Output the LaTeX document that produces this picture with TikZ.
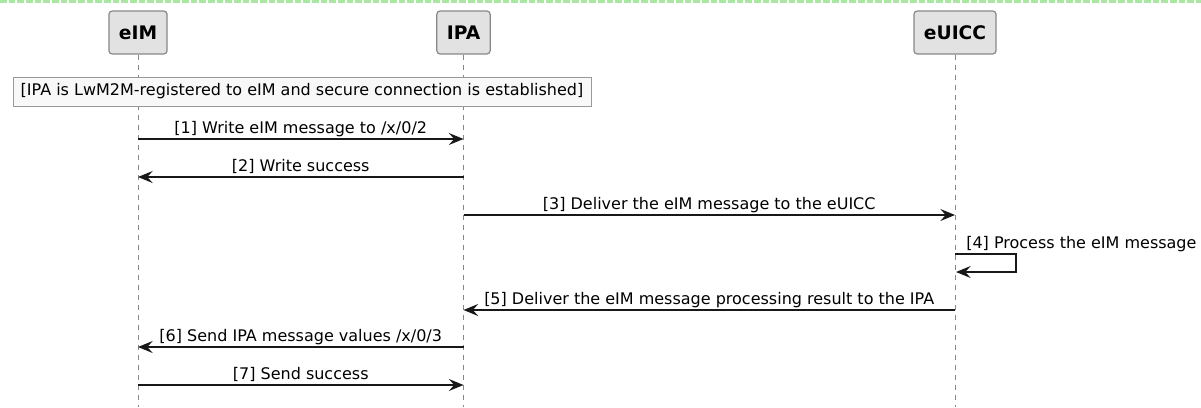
\documentclass[tikz,border=0pt]{standalone}
\usepackage{fontspec}
\setmainfont{DejaVu Sans}
\usetikzlibrary{arrows.meta,positioning}

\definecolor{boxfill}{HTML}{E2E2E2}
\definecolor{boxline}{HTML}{888888}
\definecolor{notefill}{HTML}{F8F8F8}
\definecolor{notefr}{HTML}{999999}
\definecolor{msgline}{HTML}{181818}
\definecolor{topgreen}{HTML}{A8E8A0}

\tikzstyle{actor} = [rectangle, rounded corners=2.5pt, minimum height=32.25pt, inner xsep=7.5pt, text centered, draw=boxline, line width=0.9pt, fill=boxfill, font=\fontsize{14pt}{16pt}\selectfont\bfseries]
\tikzstyle{lifeline} = [draw=boxline, line width=0.75pt, dash pattern=on 3.75pt off 3.75pt]
\tikzstyle{note} = [rectangle, minimum width=433.5pt, minimum height=21.75pt, inner sep=0pt, draw=notefr, line width=0.75pt, fill=notefill, font=\fontsize{12pt}{14pt}\selectfont]
\tikzstyle{msg} = [draw=msgline, line width=1.1pt, -{Stealth[length=11pt, width=9pt, inset=4pt]}]
\tikzstyle{lbl} = [midway, anchor=base, yshift=4.5pt, inner sep=0pt, font=\fontsize{12pt}{14pt}\selectfont]

\begin{document}
\begin{tikzpicture}[x=0.75pt, y=-0.75pt]
	\useasboundingbox (0,0) rectangle (1201,407);
	\draw [topgreen, line width=1.5pt, dash pattern=on 5pt off 1.5pt] (0,1.5) -- (1201,1.5);
	% Place nodes
	\node [actor] (eIM) at (138,32.5) {eIM};
	\node [actor] (IPA) at (463.5,32.5) {IPA};
	\node [actor] (eUICC) at (955,32.5) {eUICC};
	\coordinate (eIMend) at (138,407);
	\coordinate (IPAend) at (463.5,407);
	\coordinate (eUICCend) at (955,407);
	% Lifelines
	\draw [lifeline] (eIM.south) -- (eIMend);
	\draw [lifeline] (IPA.south) -- (IPAend);
	\draw [lifeline] (eUICC.south) -- (eUICCend);
	\node [note] (Registered) at (302,91.5) {[IPA is LwM2M-registered to eIM and secure connection is established]};
	% Message points
	\foreach \n/\y in {1/139, 2/177, 3/215, 5/310, 6/347, 7/385} {
		\coordinate (eIM\n) at (138,\y);
		\coordinate (IPA\n) at (463.5,\y);
		\coordinate (eUICC\n) at (955,\y);
	}
	\coordinate (eUICC4a) at (955,254);
	\coordinate (eUICC4b) at (956,272);
	% Draw edges
	\draw [msg] (eIM1) -- (IPA1) node [lbl] {[1] Write eIM message to /x/0/2};
	\draw [msg] (IPA2) -- (eIM2) node [lbl] {[2] Write success};
	\draw [msg] (IPA3) -- (eUICC3) node [lbl] {[3] Deliver the eIM message to the eUICC};
	\draw [msg] (eUICC4a) -- ++(61,0) |- (eUICC4b);
	\node [anchor=base west, inner sep=0pt, font=\fontsize{12pt}{14pt}\selectfont] (Process) at (966,248) {[4] Process the eIM message};
	\draw [msg] (eUICC5) -- (IPA5) node [lbl] {[5] Deliver the eIM message processing result to the IPA};
	\draw [msg] (IPA6) -- (eIM6) node [lbl] {[6] Send IPA message values /x/0/3};
	\draw [msg] (eIM7) -- (IPA7) node [lbl] {[7] Send success};
\end{tikzpicture}
\end{document}
